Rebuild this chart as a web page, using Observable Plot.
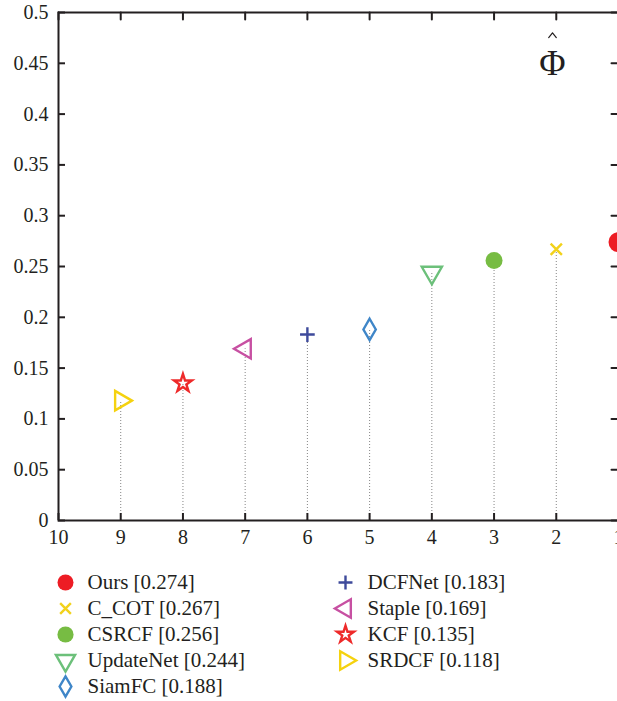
<!DOCTYPE html>
<html>
<head>
<meta charset="utf-8">
<script src="https://cdn.jsdelivr.net/npm/d3@7"></script>
<script src="https://cdn.jsdelivr.net/npm/@observablehq/plot@0.6"></script>
<style>
  html, body { margin: 0; padding: 0; background: #fff; }
  #chart svg { display: block; }
  #chart svg, #chart svg text, #chart svg g {
    font-family: "Liberation Serif", "DejaVu Serif", serif !important;
  }
</style>
</head>
<body>
<div id="chart"></div>
<script>
// ---- data ----
const methods = ["Ours", "C_COT", "CSRCF", "UpdateNet", "SiamFC", "DCFNet", "Staple", "KCF", "SRDCF"];
const ranks   = [1, 2, 3, 4, 5, 6, 7, 8, 9];
const scores  = [0.274, 0.267, 0.256, 0.244, 0.188, 0.183, 0.169, 0.135, 0.118];
const xTicks  = [10, 9, 8, 7, 6, 5, 4, 3, 2, 1];
const yTicks  = [0, 0.05, 0.1, 0.15, 0.2, 0.25, 0.3, 0.35, 0.4, 0.45, 0.5];

// ---- styles (per method) ----
const styles = {
  "Ours":      {symbol: "circle",   color: "#ed1c24", filled: true,  r: 10,  rotate: 0},
  "C_COT":     {symbol: "times",    color: "#f2d21b", filled: false, r: 5.2, rotate: 0},
  "CSRCF":     {symbol: "circle",   color: "#77bc43", filled: true,  r: 8.5, rotate: 0},
  "UpdateNet": {symbol: "triangle", color: "#6cc07a", filled: false, r: 7.5, rotate: 180},
  "SiamFC":    {symbol: "diamond",  color: "#3f86c8", filled: false, r: 6.5, rotate: 0},
  "DCFNet":    {symbol: "plus",     color: "#3e4a9b", filled: false, r: 4.8, rotate: 0},
  "Staple":    {symbol: "triangle", color: "#c750a2", filled: false, r: 7.2, rotate: -90},
  "KCF":       {symbol: "star",     color: "#ee2a2a", filled: false, r: 5.6, rotate: 0},
  "SRDCF":     {symbol: "triangle", color: "#f5d20f", filled: false, r: 7.2, rotate: 90}
};

const data = methods.map((m, i) => ({method: m, rank: ranks[i], score: scores[i]}));
const ink = "#231f20";
const font = "Liberation Serif, DejaVu Serif, serif";

function dotFor(d, xKey, yKey, scale = 1) {
  const s = styles[d.method];
  return Plot.dot([d], {
    x: xKey, y: yKey,
    symbol: s.symbol,
    r: s.r * scale,
    rotate: s.rotate,
    stroke: s.color,
    fill: s.filled ? s.color : "none",
    strokeWidth: s.filled ? 0 : 2.4
  });
}

const tickShape = {draw(context, l) { context.moveTo(0, 0); context.lineTo(0, -l); }};
const hatShape = {draw(context) { context.moveTo(-3.8, 2.6); context.lineTo(0, -2.2); context.lineTo(3.8, 2.6); }};

const main = Plot.plot({
  width: 617,
  height: 560,
  marginLeft: 58,
  marginRight: -1,
  marginTop: 12,
  marginBottom: 40,
  style: {fontFamily: font, fontSize: "20px", color: ink, background: "#fff", overflow: "hidden"},
  x: {domain: [10, 1], label: null},
  y: {domain: [0, 0.5], label: null},
  marks: [
    Plot.ruleX(data, {x: "rank", y1: 0, y2: "score", stroke: "#858585", strokeWidth: 1, strokeDasharray: "1,2"}),
    ...data.map(d => dotFor(d, "rank", "score")),
    Plot.axisX(xTicks, {anchor: "bottom", tickSize: -7, tickPadding: 16, strokeWidth: 2, stroke: ink, fill: ink, fontSize: 20, tickFormat: d => String(d)}),
    Plot.axisY(yTicks, {anchor: "left", tickSize: -7, tickPadding: 17, strokeWidth: 2, stroke: ink, fill: ink, fontSize: 20, tickFormat: d => String(+d.toFixed(2))}),
    Plot.vector(xTicks, {x: d => d, y: 0.5, length: 7, rotate: 180, anchor: "start", shape: tickShape, stroke: ink, strokeWidth: 2}),
    Plot.vector(yTicks, {x: 1, y: d => d, length: 7, rotate: -90, anchor: "start", shape: tickShape, stroke: ink, strokeWidth: 2}),
    Plot.frame({stroke: ink, strokeWidth: 2}),
    Plot.text(["Φ"], {frameAnchor: "top-right", dx: -66, dy: 62, textAnchor: "middle", lineAnchor: "bottom", fontSize: 36, fill: ink}),
    Plot.vector([0], {frameAnchor: "top-right", dx: -66, dy: 22, length: 1, shape: hatShape, stroke: ink, strokeWidth: 1.2})
  ]
});

const legendData = data.map((d, i) => ({...d, col: Math.floor(i / 5), row: i % 5, label: `${d.method} [${d.score.toFixed(3)}]`}));

const legend = Plot.plot({
  width: 617,
  height: 141,
  marginLeft: 65,
  marginRight: 272,
  marginTop: 22,
  marginBottom: 15,
  style: {fontFamily: font, fontSize: "21px", color: ink, background: "#fff"},
  x: {domain: [0, 1], axis: null},
  y: {domain: [0, 4], axis: null, reverse: true},
  marks: [
    ...legendData.map(d => dotFor(d, "col", "row", d.method === "Ours" ? 0.8 : 0.95)),
    Plot.text(legendData, {x: "col", y: "row", text: "label", dx: 22, textAnchor: "start", fill: ink, fontSize: 21})
  ]
});

const el = document.getElementById("chart");
el.appendChild(main);
el.appendChild(legend);
</script>
</body>
</html>
